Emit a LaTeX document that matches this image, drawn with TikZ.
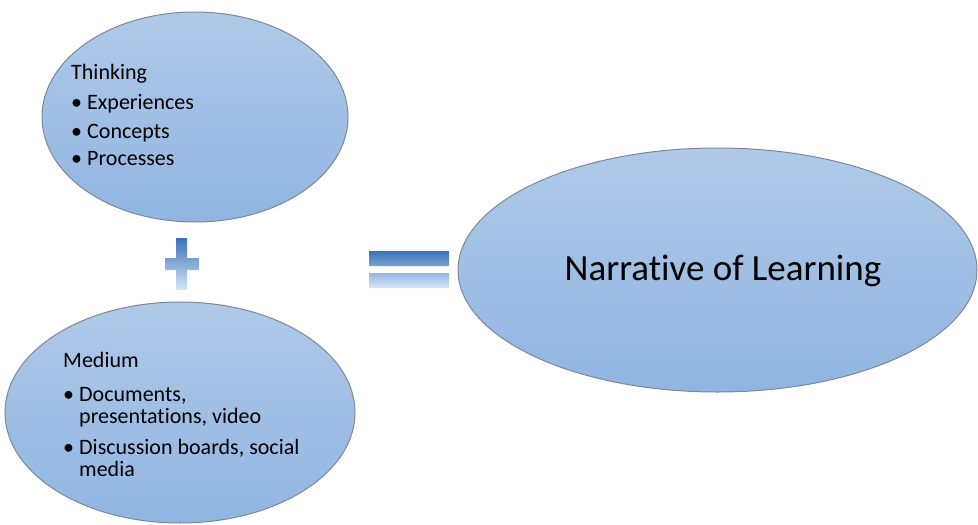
\documentclass[tikz,border=0pt]{standalone}
\usepackage{fontspec}
\setmainfont{Carlito}[Ligatures=CommonOff]
\usepackage{tikz}
\usetikzlibrary{shapes.geometric}

\definecolor{blobtop}{HTML}{B0C9E8}
\definecolor{blobbot}{HTML}{90B5E2}
\definecolor{blobline}{HTML}{7D8896}
\definecolor{signdark}{HTML}{3A73B8}
\definecolor{signlight}{HTML}{D6E6F9}

\begin{document}
\begin{tikzpicture}[x=1pt,y=-1pt,
  blob/.style={draw=blobline, line width=1pt, shape=ellipse, inner sep=0pt,
    top color=blobtop, bottom color=blobbot},
  list/.style={inner sep=0pt, anchor=base west, font=\fontsize{22}{21}\selectfont},
  sign/.style={top color=signdark, bottom color=signlight, draw=none}]
  \useasboundingbox (0,0) rectangle (978,525);
  \node (think) [blob, minimum width=306pt, minimum height=210pt] at (195,117) {};
  \node (medium) [blob, minimum width=350pt, minimum height=221pt] at (180,412.5) {};
  \node (narr) [blob, minimum width=519pt, minimum height=244pt] at (717.5,270) {};
  \node (narrtxt) [inner sep=0pt, font=\fontsize{37}{42}\selectfont] at (723,271) {Narrative of Learning};
  \node (thinktxt) [list] at (71,79) {\begin{tabular}[t]{@{}p{16pt}@{}l@{}}
    \multicolumn{2}{@{}l@{}}{Thinking}\\[9.5pt]
    \textbullet & Experiences\\[7.5pt]
    \textbullet & Concepts\\[6.5pt]
    \textbullet & Processes
  \end{tabular}};
  \node (mediumtxt) [list] at (63,367) {\begin{tabular}[t]{@{}p{16pt}@{}l@{}}
    \multicolumn{2}{@{}l@{}}{Medium}\\[13.5pt]
    \textbullet & Documents,\\
     & presentations, video\\[10pt]
    \textbullet & Discussion boards, social\\
     & media
  \end{tabular}};
  % plus and equals signs
  \shade[sign] (176,238) -- (187,238) -- (187,258) -- (199,258) -- (199,270)
    -- (187,270) -- (187,290) -- (176,290) -- (176,270) -- (165,270)
    -- (165,258) -- (176,258) -- cycle;
  \shade[sign] (369,251) rectangle (449,266) (369,273) rectangle (449,288);
\end{tikzpicture}
\end{document}
